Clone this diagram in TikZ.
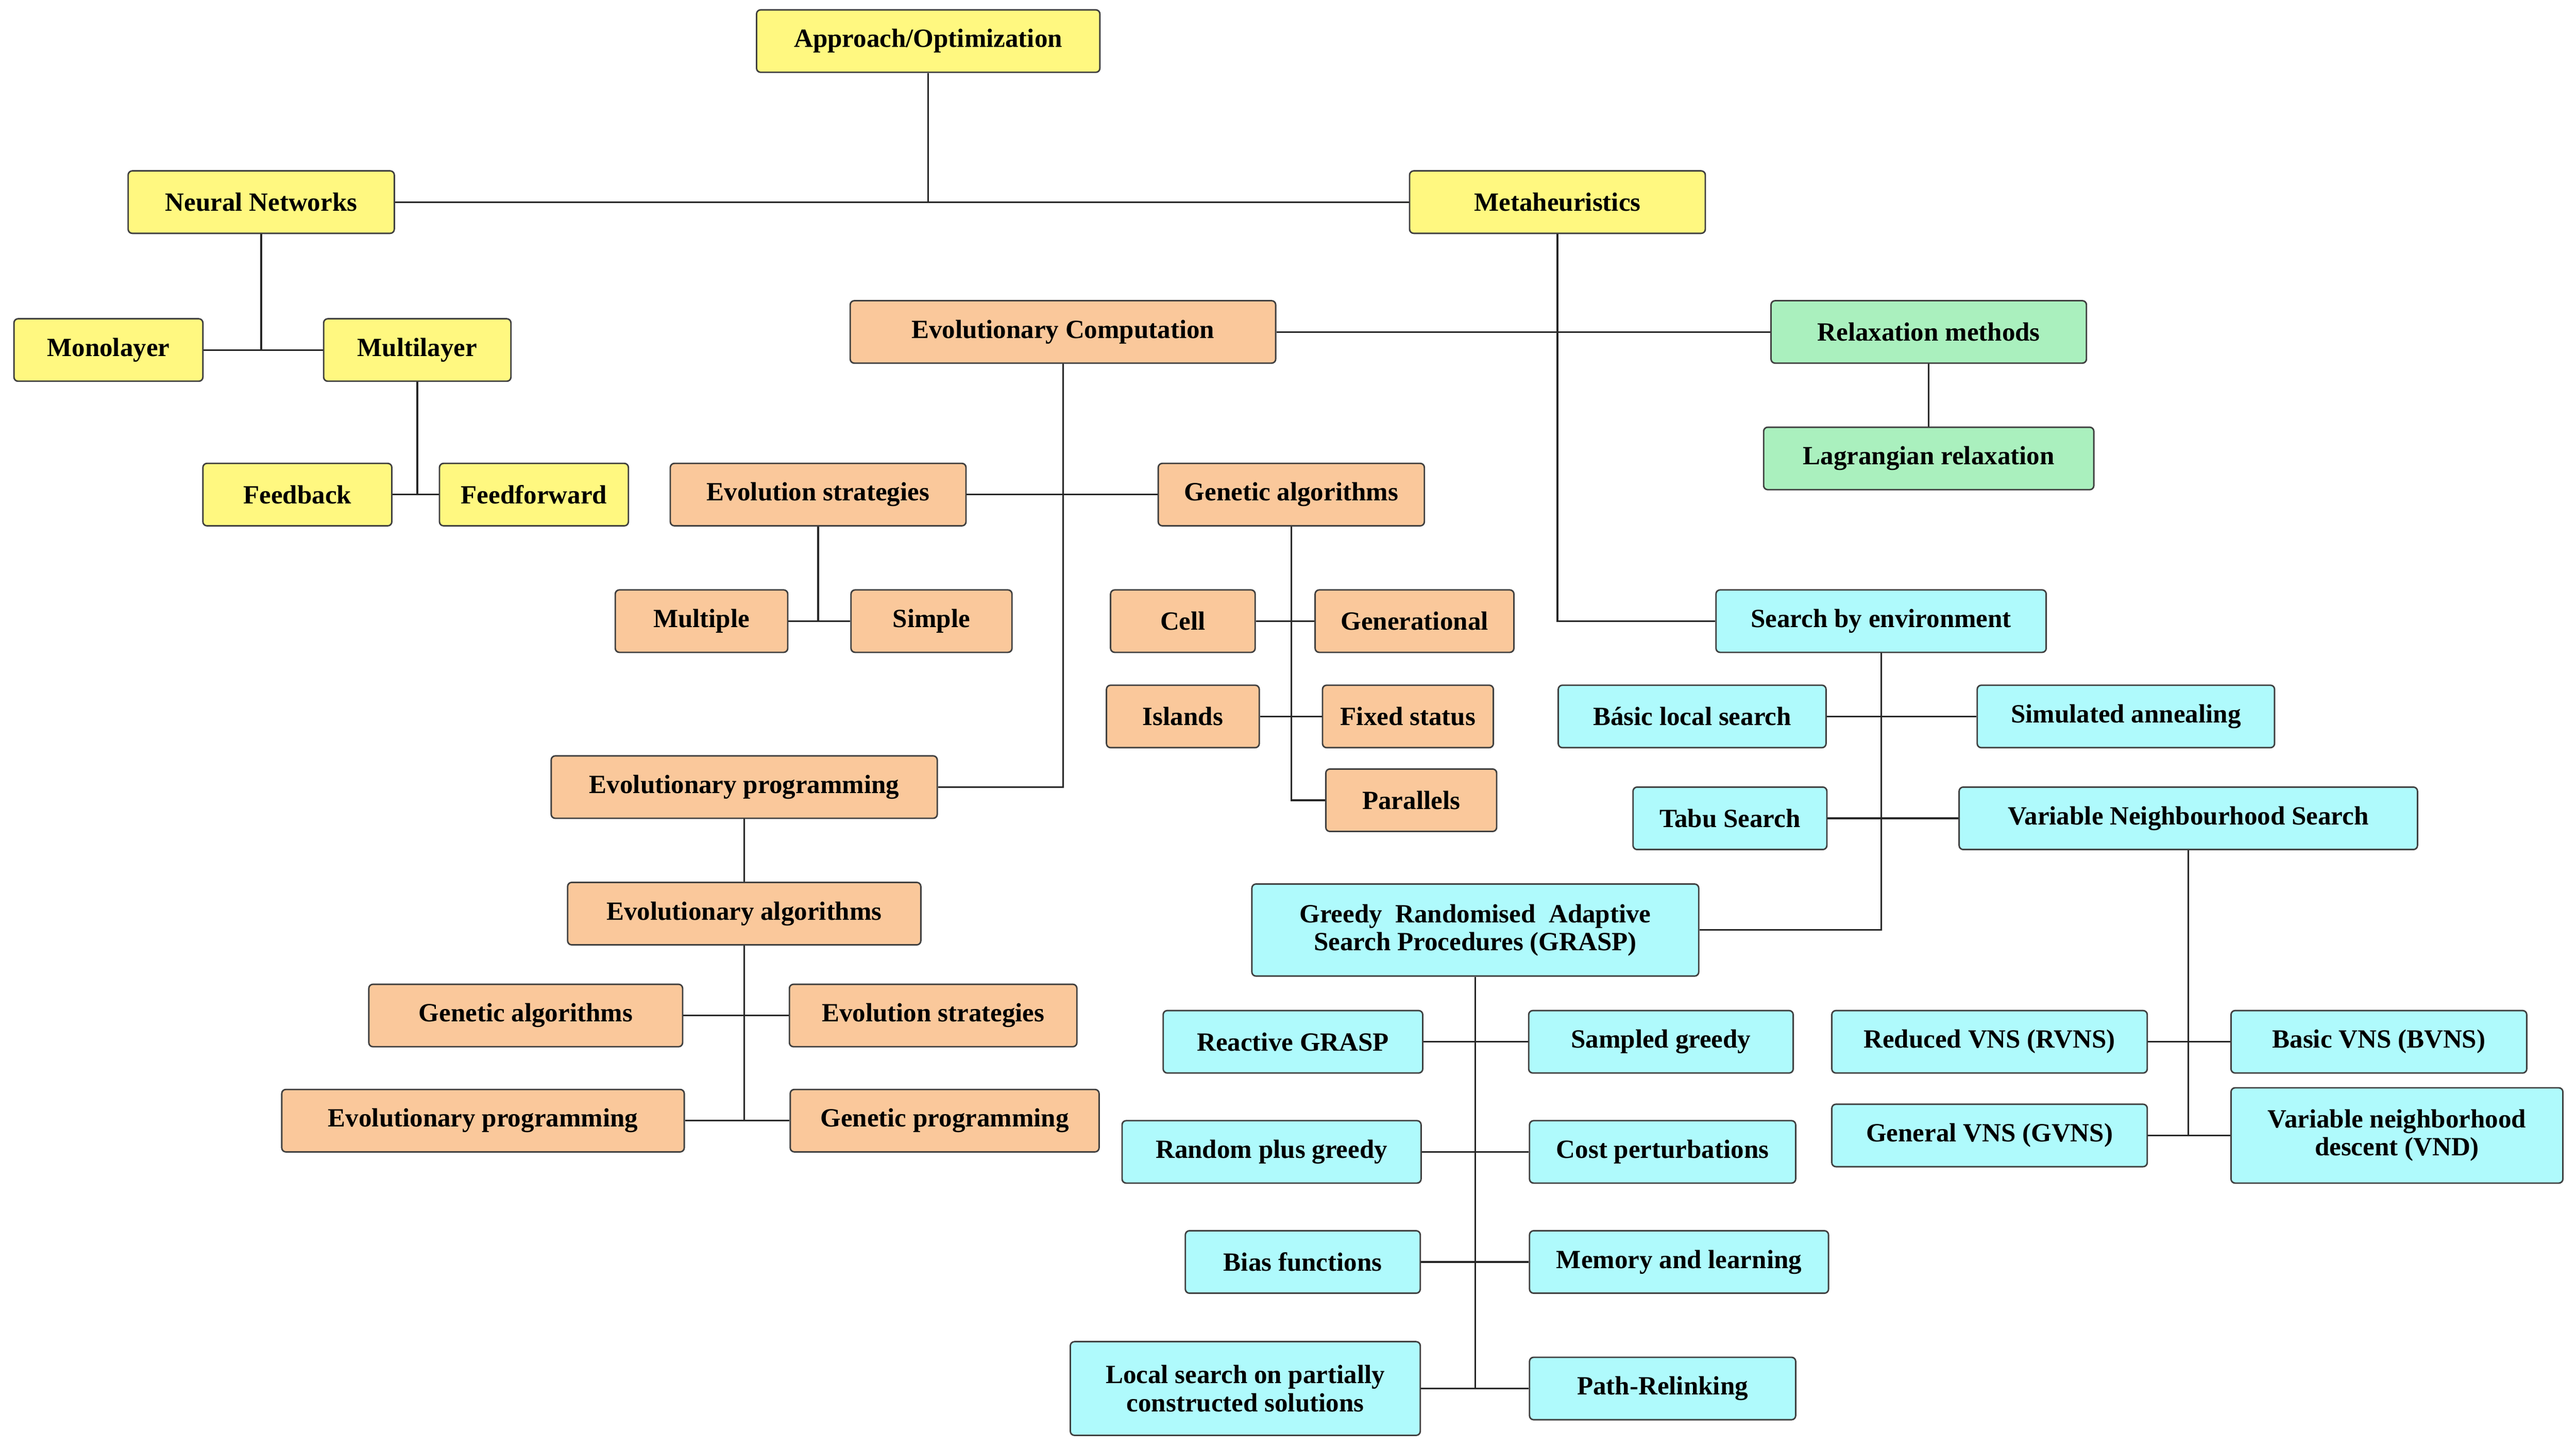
\documentclass[tikz,border=0pt]{standalone}
\usepackage{fontspec}
\setmainfont{Liberation Serif}
\begin{document}
\begin{tikzpicture}[x=1pt,y=-1pt,
 b/.style={draw=black!75,rounded corners=2.5pt,line width=0.9pt,font=\fontsize{16}{17}\selectfont\bfseries,align=center,inner sep=0pt,minimum height=38pt},
 Y/.style={b,fill=yellow!50},
 O/.style={b,fill={rgb,255:red,250;green,200;blue,155}},
 G/.style={b,fill={rgb,255:red,170;green,240;blue,190}},
 C/.style={b,fill={rgb,255:red,175;green,250;blue,252}},
 l/.style={draw=black!85,line width=1pt}]
\useasboundingbox (0,0) rectangle (1568,881);
\node[Y,minimum width=209pt] (ao) at (565,25) {Approach/Optimization};
\node[Y,minimum width=162pt] (nn) at (159,123) {Neural Networks};
\node[Y,minimum width=180pt] (mh) at (948,123) {Metaheuristics};
\node[Y,minimum width=115pt] (mono) at (66,213) {Monolayer};
\node[Y,minimum width=114pt] (multi) at (254,213) {Multilayer};
\node[Y,minimum width=115pt] (fb) at (181,301) {Feedback};
\node[Y,minimum width=115pt] (ff) at (325,301) {Feedforward};
\node[O,minimum width=259pt] (ec) at (647,202) {Evolutionary Computation};
\node[G,minimum width=192pt] (rm) at (1174,202) {Relaxation methods};
\node[G,minimum width=201pt] (lr) at (1174,279) {Lagrangian relaxation};
\node[O,minimum width=180pt] (es) at (498,301) {Evolution strategies};
\node[O,minimum width=162pt] (ga) at (786,301) {Genetic algorithms};
\node[O,minimum width=105pt] (mu) at (427,378) {Multiple};
\node[O,minimum width=98pt] (si) at (567,378) {Simple};
\node[O,minimum width=88pt] (ce) at (720,378) {Cell};
\node[O,minimum width=121pt] (ge) at (861,378) {Generational};
\node[O,minimum width=93pt] (is) at (720,436) {Islands};
\node[O,minimum width=104pt] (fs) at (857,436) {Fixed status};
\node[O,minimum width=104pt] (pa) at (859,487) {Parallels};
\node[C,minimum width=201pt] (se) at (1145,378) {Search by environment};
\node[C,minimum width=163pt] (bl) at (1030,436) {Básic local search};
\node[C,minimum width=181pt] (sa) at (1294,436) {Simulated annealing};
\node[C,minimum width=118pt] (ts) at (1053,498) {Tabu Search};
\node[C,minimum width=279pt] (vns) at (1332,498) {Variable Neighbourhood Search};
\node[C,minimum width=272pt,minimum height=56pt] (gr) at (898,566) {Greedy\ \ Randomised\ \ Adaptive\\Search Procedures (GRASP)};
\node[O,minimum width=235pt] (ep) at (453,479) {Evolutionary programming};
\node[O,minimum width=215pt] (ea) at (453,556) {Evolutionary algorithms};
\node[O,minimum width=191pt] (ga2) at (320,618) {Genetic algorithms};
\node[O,minimum width=175pt] (es2) at (568,618) {Evolution strategies};
\node[O,minimum width=245pt] (ep2) at (294,682) {Evolutionary programming};
\node[O,minimum width=188pt] (gp) at (575,682) {Genetic programming};
\node[C,minimum width=158pt] (rg) at (787,634) {Reactive GRASP};
\node[C,minimum width=161pt] (sg) at (1011,634) {Sampled greedy};
\node[C,minimum width=182pt] (rp) at (774,701) {Random plus greedy};
\node[C,minimum width=162pt] (cp) at (1012,701) {Cost perturbations};
\node[C,minimum width=143pt] (bf) at (793,768) {Bias functions};
\node[C,minimum width=182pt] (ml) at (1022,768) {Memory and learning};
\node[C,minimum width=213pt,minimum height=57pt] (ls) at (758,845) {Local search on partially\\constructed solutions};
\node[C,minimum width=162pt] (pr) at (1012,845) {Path-Relinking};
\node[C,minimum width=192pt] (rv) at (1211,634) {Reduced VNS (RVNS)};
\node[C,minimum width=180pt] (bv) at (1448,634) {Basic VNS (BVNS)};
\node[C,minimum width=192pt] (gv) at (1211,691) {General VNS (GVNS)};
\node[C,minimum width=202pt,minimum height=58pt] (vnd) at (1459,691) {Variable neighborhood\\descent (VND)};
% connectors
\draw[l] (nn.east) -- (mh.west);
\draw[l] (ao.south) -- (ao.south |- nn.east);
\draw[l] (mono.east) -- (multi.west);
\draw[l] (nn.south) -- (nn.south |- mono.east);
\draw[l] (fb.east) -- (ff.west);
\draw[l] (multi.south) -- (multi.south |- fb.east);
\draw[l] (mh.south) |- (se.west);
\draw[l] (ec.east) -- (rm.west);
\draw[l] (rm.south) -- (lr.north);
\draw[l] (ec.south) |- (ep.east);
\draw[l] (es.east) -- (ga.west);
\draw[l] (mu.east) -- (si.west);
\draw[l] (es.south) -- (es.south |- mu.east);
\draw[l] (ga.south) |- (pa.west);
\draw[l] (ce.east) -- (ge.west);
\draw[l] (is.east) -- (fs.west);
\draw[l] (se.south) |- (gr.east);
\draw[l] (bl.east) -- (sa.west);
\draw[l] (ts.east) -- (vns.west);
\draw[l] (vns.south) -- (vns.south |- gv.east);
\draw[l] (rv.east) -- (bv.west);
\draw[l] (gv.east) -- (vnd.west);
\draw[l] (gr.south) -- (gr.south |- ls.east);
\draw[l] (rg.east) -- (sg.west);
\draw[l] (rp.east) -- (cp.west);
\draw[l] (bf.east) -- (ml.west);
\draw[l] (ls.east) -- (pr.west);
\draw[l] (ep.south) -- (ea.north);
\draw[l] (ea.south) -- (ea.south |- ep2.east);
\draw[l] (ga2.east) -- (es2.west);
\draw[l] (ep2.east) -- (gp.west);
\end{tikzpicture}
\end{document}
